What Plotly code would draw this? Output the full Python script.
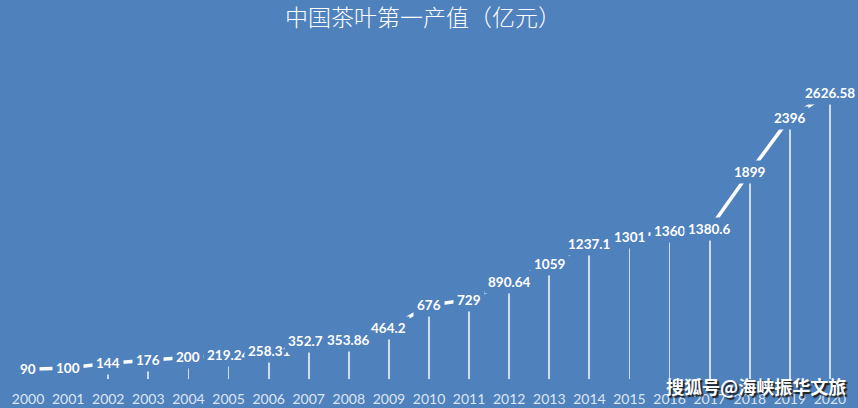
import plotly.graph_objects as go

years = list(range(2000, 2021))
values = [90, 100, 144, 176, 200, 219.24, 258.31, 352.71, 353.86, 464.2,
          676, 729, 890.64, 1059, 1237.1, 1301, 1360, 1380.6, 1899, 2396, 2626.58]
labels = ["90", "100", "144", "176", "200", "219.24", "258.31", "352.71", "353.86", "464.2",
          "676", "729", "890.64", "1059", "1237.1", "1301", "1360", "1380.6", "1899", "2396", "2626.58"]

title_text = "中国茶叶第一产值（亿元）"
watermark = "搜狐号@海峡振华文旅"

BG = "#4F81BD"

fig = go.Figure()
fig.add_trace(go.Bar(
    x=years, y=values, width=0.045,
    marker=dict(color="rgba(255,255,255,0.72)", line=dict(width=0)),
    hoverinfo="skip", showlegend=False,
))
fig.add_trace(go.Scatter(
    x=years, y=values, mode="lines",
    line=dict(color="white", width=3.5),
    showlegend=False,
))

for x, v, t in zip(years, values, labels):
    fig.add_annotation(
        x=x, y=v, text=t, showarrow=False,
        font=dict(family="Lato", size=13.5, color="white", weight="bold"),
        bgcolor=BG, borderpad=3,
    )

fig.add_annotation(
    x=0.493, y=1.0, xref="paper", yref="paper", yanchor="bottom", yshift=17,
    text=title_text, showarrow=False,
    font=dict(family="Noto Sans CJK SC", size=23, color="white", weight=300),
)

fig.add_annotation(
    x=1.0, y=0.0, xref="paper", yref="paper", xanchor="right", yanchor="middle",
    xshift=-2, yshift=-7,
    text=watermark, showarrow=False,
    font=dict(family="Noto Sans CJK SC", size=18, color="white", weight="bold",
              shadow="2px 2px 1px #202020"),
)

fig.update_layout(
    width=858, height=408,
    paper_bgcolor=BG, plot_bgcolor=BG,
    margin=dict(l=8, r=8, t=52, b=29, pad=0),
    bargap=0,
    xaxis=dict(range=[1999.5, 2020.5], tickmode="array", tickvals=years,
               ticktext=[str(y) for y in years], ticklabelstandoff=10,
               automargin=False,
               showgrid=False, zeroline=False, showline=False,
               ticks="", tickfont=dict(family="Lato", size=14, color="#DCE6F2")),
    yaxis=dict(range=[0, 3000], visible=False, showgrid=False, zeroline=False,
               automargin=False),
)

fig.write_html(
    "out.html",
    config={"displayModeBar": False},
    post_script="document.body.style.margin='0';document.body.style.background='#4F81BD';",
)
